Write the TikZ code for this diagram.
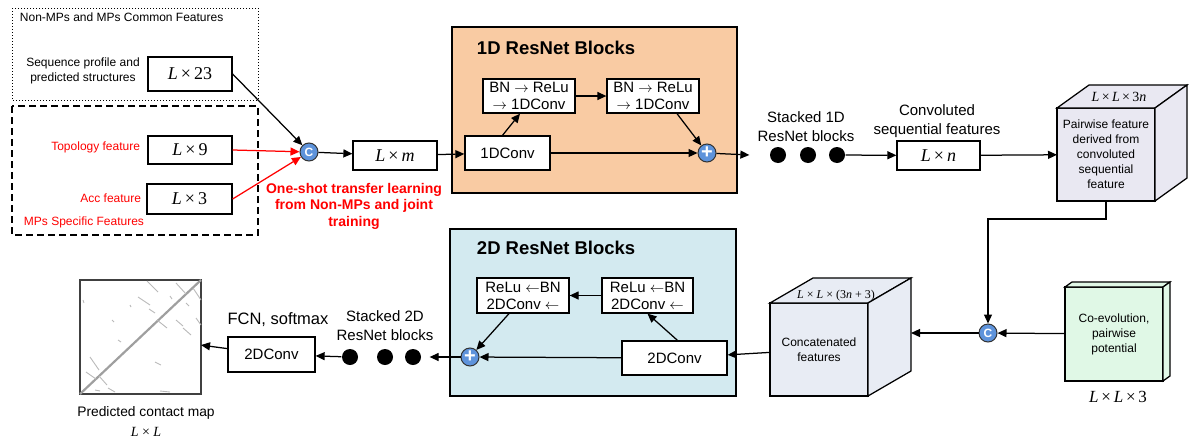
\documentclass[tikz,border=0pt]{standalone}
\usepackage{fontspec}
\setmainfont{Liberation Sans}
\newfontfamily\tms{Liberation Serif}
\usetikzlibrary{arrows.meta}
\definecolor{resorange}{HTML}{F9CBA3}
\definecolor{resblue}{HTML}{D3EAF0}
\definecolor{cubegray}{HTML}{E9E8F2}
\definecolor{cubeblue}{HTML}{E8ECF4}
\definecolor{cubegreen}{HTML}{E0F8E6}
\definecolor{opblue}{HTML}{5E93DB}
\newcommand{\fs}[2]{\fontsize{#1}{#2}\selectfont}
\newcommand{\dimf}[1]{{\tms\fs{18}{20}#1}}
\newcommand{\ra}{$\rightarrow$}
\newcommand{\la}{$\leftarrow$}

\begin{document}
\begin{tikzpicture}[x=1pt, y=-1pt, line width=1.25pt,
    >={Triangle[length=9pt,width=8pt]},
    box/.style={draw, fill=white, inner sep=1pt, align=center},
    blk/.style={box, font=\fs{15}{17}},
    lbl/.style={font=\fs{12}{15}, align=center},
    face/.style={draw, inner sep=0pt, outer sep=0pt, align=center},
    opnode/.style={circle, draw=black!80, fill=opblue, line width=1pt,
        minimum size=18pt, inner sep=0pt, text=white},
    dot/.style={circle, fill=black, minimum size=16pt, inner sep=0pt}]
\useasboundingbox (0,0) rectangle (1191,442);

% input features
\draw[dotted, line width=1pt] (12,8) rectangle (258,100);
\draw[dash pattern=on 7pt off 4pt, line width=1.2pt] (12,106) rectangle (258,235);
\node[lbl, anchor=west] (common) at (16,17) {Non-MPs and MPs Common Features};
\node[lbl] (seqtxt) at (83,71) {Sequence profile and\\predicted structures};
\node[lbl, red, anchor=east] (topotxt) at (144,147) {Topology feature};
\node[lbl, red, anchor=east] (acctxt) at (145,198) {Acc feature};
\node[lbl, red, anchor=west] (mpstxt) at (20,222) {MPs Specific Features};
\node[box, minimum width=84pt, minimum height=34pt] (d23) at (190,74) {\dimf{\textit{L}\,×\,23}};
\node[box, minimum width=84pt, minimum height=28pt] (d9) at (190,150) {\dimf{\textit{L}\,×\,9}};
\node[box, minimum width=85pt, minimum height=30pt] (d3) at (189.5,199) {\dimf{\textit{L}\,×\,3}};
\node[opnode, font=\bfseries\fs{12}{12}] (c1) at (309,152) {C};
\draw[->] (d23.east) -- (c1);
\draw[->, red] (d9.east) -- (c1);
\draw[->, red] (d3.east) -- (c1);
\node[red, font=\bfseries\fs{14}{16.5}, align=center] (transfer) at (354,206)
    {One-shot transfer learning\\from Non-MPs and joint\\training};
\node[box, minimum width=84pt, minimum height=29pt] (dm) at (395,155.5) {\dimf{\textit{L}\,×\,\textit{m}}};
\draw[->] (c1) -- (dm);

% 1D blocks
\draw[fill=resorange] (452,27) rectangle (737,193);
\node[anchor=west, font=\bfseries\fs{18.5}{20}] (res1) at (473,48) {1D ResNet Blocks};
\node[blk, minimum width=85pt, minimum height=34pt] (conv1) at (507.5,153) {1DConv};
\node[blk, minimum width=92pt, minimum height=34pt] (bn1) at (529,96) {BN \ra{} ReLu\\\ra{} 1DConv};
\node[blk, minimum width=92pt, minimum height=34pt] (bn2) at (653,96) {BN \ra{} ReLu\\\ra{} 1DConv};
\node[opnode, font=\bfseries\fs{20}{20}] (p1) at (707,153) {+};
\draw[->] (dm) -- (conv1);
\draw[->] ([xshift=-5pt]conv1.north) -- ([xshift=-9pt]bn1.south);
\draw[->] (bn1) -- (bn2);
\draw[->] ([xshift=24pt]bn2.south) -- (p1);
\draw[->] (conv1) -- (p1);
\foreach \i/\x in {1/778,2/808,3/837}
    \node[dot] (s\i) at (\x,155) {};
\draw[->] (p1) -- ([xshift=-20pt]s1.west);
\node[lbl, font=\fs{15}{19}] (stk1) at (806,127) {Stacked 1D\\ResNet blocks};
\node[lbl, font=\fs{15}{19}] (convtxt) at (937,121) {Convoluted\\sequential features};
\node[box, minimum width=83pt, minimum height=29pt] (dn) at (938.5,155.5) {\dimf{\textit{L}\,×\,\textit{n}}};
\draw[->] (s3) -- (dn);

% pairwise cube
\node[face, fill=cubegray, minimum width=98pt, minimum height=93pt, font=\fs{12}{15}] (f1)
    at (1106,154.5) {Pairwise feature\\derived from\\convoluted\\sequential\\feature};
\draw[fill=cubegray] (f1.north west) -- ++(32,-23) -- ++(98,0) -- (f1.north east) -- cycle;
\draw[fill=cubegray] (f1.north east) -- ++(32,-23) -- ++(0,93) -- (f1.south east) -- cycle;
\node[font=\tms\fs{14}{15}] (t1) at (1119,97) {\textit{L}\,×\,\textit{L}\,×\,3\textit{n}};
\draw[->] (dn) -- (f1);

% co-evolution
\node[face, fill=cubegreen, minimum width=98pt, minimum height=94pt, font=\fs{12}{15}] (g1)
    at (1114,334) {Co-evolution,\\pairwise\\potential};
\draw[fill=cubegreen] (g1.north west) -- ++(7,-5) -- ++(98,0) -- (g1.north east) -- cycle;
\draw[fill=cubegreen] (g1.north east) -- ++(7,-5) -- ++(0,94) -- (g1.south east) -- cycle;
\node[font=\tms\fs{17}{18}] (t3) at (1118,397) {\textit{L}\,×\,\textit{L}\,×\,3};
\node[opnode, font=\bfseries\fs{12}{12}] (c2) at (988,333) {C};
\draw[->] (f1.south) -- ++(0,18) -| (c2);
\draw[->] (g1) -- (c2);

% concatenated cube
\node[face, fill=cubeblue, minimum width=98pt, minimum height=93pt, font=\fs{12}{15}] (f2)
    at (819,349.5) {Concatenated\\features};
\draw[fill=cubeblue] (f2.north west) -- ++(43,-25) -- ++(98,0) -- (f2.north east) -- cycle;
\draw[fill=cubeblue] (f2.north east) -- ++(43,-25) -- ++(0,93) -- (f2.south east) -- cycle;
\node[font=\tms\fs{12}{13}] (t2) at (836,296) {\textit{L} × \textit{L} × (3\textit{n} + 3)};
\coordinate (k2) at ([shift={(43,-25)}]f2.south east);
\draw[->] (c2) -- (c2 -| k2);

% 2D blocks
\draw[fill=resblue] (450,229) rectangle (736,396);
\node[anchor=west, font=\bfseries\fs{18.5}{20}] (res2) at (473,248) {2D ResNet Blocks};
\node[blk, minimum width=105pt, minimum height=34pt] (cv2) at (674.5,358) {2DConv};
\node[blk, minimum width=91pt, minimum height=35pt] (rb) at (647.5,295.5) {ReLu \la{}BN\\2DConv \la};
\node[blk, minimum width=92pt, minimum height=35pt] (lb) at (523,295.5) {ReLu \la{}BN\\2DConv \la};
\node[opnode, font=\bfseries\fs{20}{20}] (p2) at (470,357) {+};
\draw[->] (f2) -- (cv2);
\draw[->] ([xshift=3pt]cv2.north) -- (rb.south);
\draw[->] (rb) -- (lb);
\draw[->] ([xshift=-14pt]lb.south) -- (p2);
\draw[->] (cv2) -- (p2);
\foreach \i/\x in {1/350,2/385,3/413}
    \node[dot] (b\i) at (\x,357) {};
\draw[->] (p2) -- ([xshift=8pt]b3.east);
\node[lbl, font=\fs{15}{19}] (stk2) at (385,326) {Stacked 2D\\ResNet blocks};

% output
\node[blk, minimum width=87pt, minimum height=35pt] (co) at (271.5,354.5) {2DConv};
\node[lbl, font=\fs{16.5}{18}] (fcn) at (278,320) {FCN, softmax};
\draw[->] (b1) -- (co);
\node[draw=black!75, line width=1.3pt, inner sep=0pt, outer sep=0pt,
    minimum width=121pt, minimum height=114pt] (map) at (140.5,337) {};
\draw[->] (co) -- (map);
\draw[gray!75, line width=2.2pt] (map.south west) -- (map.north east);
\foreach \xa/\ya/\xb/\yb in {138/297/150/305, 149/309/155/313, 147/281/158/292,
    176/283/186/294, 193/288/201/300, 176/320/183/326, 183/328/191/335,
    196/318/201/325, 157/320/167/328, 90/357/99/370, 86/372/96/379,
    99/376/107/385, 108/388/115/392, 155/362/161/365, 160/391/170/392,
    83/300/84/303, 112/320/114/322, 118/340/121/342, 130/305/131/307,
    186/303/189/306, 170/296/172/299, 95/390/100/391}
    \draw[gray!55, line width=0.9pt] (\xa,\ya) -- (\xb,\yb);
\node[lbl, font=\fs{13.8}{16}] (maptxt) at (146,413) {Predicted contact map};
\node[font=\tms\fs{14}{15}] (mapdim) at (146,432) {\textit{L} × \textit{L}};
\end{tikzpicture}
\end{document}
